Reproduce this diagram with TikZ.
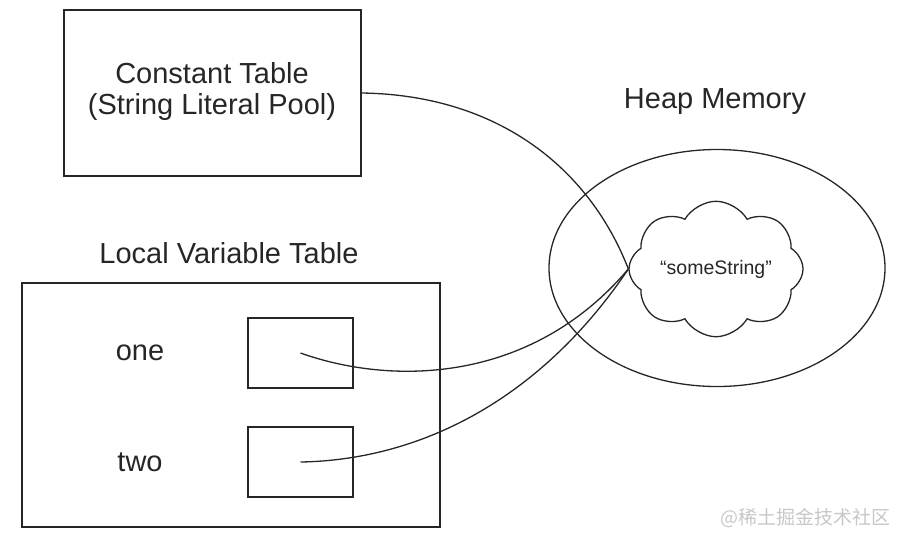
\documentclass[tikz,border=0pt]{standalone}
\usepackage{fontspec}
\setmainfont{Liberation Sans}
\newfontfamily\cjk{Noto Sans CJK SC}
\usepackage{xcolor}
\usepackage{tikz}
\usetikzlibrary{shapes.geometric, shapes.symbols}

\begin{document}
\begin{tikzpicture}[x=1pt,y=-1pt,line width=1.3pt,draw=black!85,
    txt/.style={text=black!85,font=\fontsize{29}{31}\selectfont},
    box/.style={draw,inner sep=0pt}]
            \useasboundingbox (0,0) rectangle (901,547);
            \node[box,minimum width=297,minimum height=166](const) at (212.5,93) {};
            \node[txt,align=center](constlbl) at (212,91) {Constant Table\\(String Literal Pool)};
            \node[txt](heaplbl) at (715,102) {Heap Memory};
            \node[txt](locallbl) at (229,253) {Local Variable Table};
            \node[box,minimum width=418,minimum height=244](local) at (231,405) {};
            \node[txt](onelbl) at (140,353) {one};
            \node[txt](twolbl) at (140,462) {two};
            \node[box,minimum width=105,minimum height=70](one) at (300.5,353) {};
            \node[box,minimum width=105,minimum height=70](two) at (300.5,462) {};
            \node[ellipse,draw,minimum width=336,minimum height=237,inner sep=0pt](heap) at (717,268) {};
            \node[cloud,draw,cloud puffs=8,cloud puff arc=120,aspect=1.45,
                  minimum width=174,minimum height=122,inner sep=0pt,text=black!85](str) at (716,269)
                  {\fontsize{19.5}{22}\selectfont “someString”};
            \node[text=black!22,font=\cjk\fontsize{19}{22}\selectfont,anchor=east](mark) at (894,518) {@稀土掘金技术社区};
            \draw (const.east) .. controls (500,95) and (590,170) .. (str.west);
            \draw (one.center) .. controls (390,385) and (530,385) .. (str.west);
            \draw (two.center) .. controls (420,460) and (540,400) .. (str.west);
        \end{tikzpicture}
\end{document}
